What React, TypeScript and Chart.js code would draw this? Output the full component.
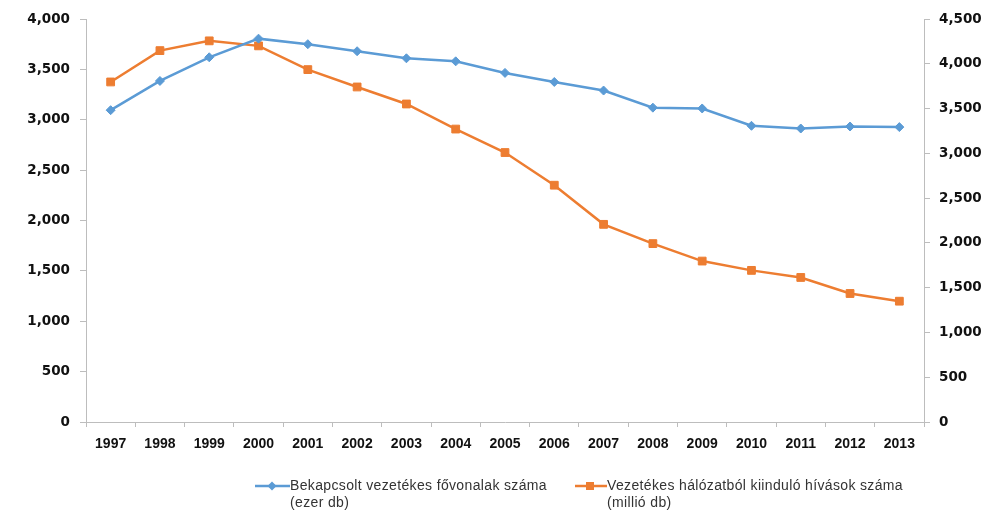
import React, { useEffect, useRef } from "react";
import { Chart, registerables } from "chart.js";

Chart.register(...registerables);

const years = ["1997","1998","1999","2000","2001","2002","2003","2004","2005","2006","2007","2008","2009","2010","2011","2012","2013"];
const linesThousands = [3095, 3385, 3620, 3805, 3750, 3680, 3610, 3580, 3465, 3375, 3290, 3120, 3112, 2940, 2913, 2933, 2927];
const callsMillions = [3797, 4147, 4256, 4200, 3935, 3741, 3551, 3271, 3009, 2644, 2207, 1992, 1797, 1693, 1614, 1435, 1349];
const leftTicks = { min: 0, max: 4000, step: 500 };
const rightTicks = { min: 0, max: 4500, step: 500 };
const seriesNames = [
  ["Bekapcsolt vezetékes fővonalak száma", "(ezer db)"],
  ["Vezetékes hálózatból kiinduló hívások száma", "(millió db)"],
];

const BLUE = "#5b9bd5";
const ORANGE = "#ed7d31";
const AXIS = "#bdbdbd";
const XFONT = { family: "'Liberation Sans', Arial, sans-serif", size: 14, weight: "bold" as const };
const YFONT = { family: "'DejaVu Sans', sans-serif", size: 13.5, weight: "bold" as const };

const fmt = (v: number | string) => Number(v).toLocaleString("en-US");

export default function App() {
  const ref = useRef<HTMLCanvasElement>(null);
  useEffect(() => {
    document.body.style.margin = "0";
    const chart = new Chart(ref.current!, {
      type: "line",
      data: {
        labels: years,
        datasets: [
          {
            label: seriesNames[0].join(" "),
            data: linesThousands,
            yAxisID: "y",
            borderColor: BLUE,
            backgroundColor: BLUE,
            borderWidth: 2.5,
            pointStyle: "rectRot",
            pointRadius: 4.5,
            pointBorderWidth: 1,
            tension: 0,
          },
          {
            label: seriesNames[1].join(" "),
            data: callsMillions,
            yAxisID: "y1",
            borderColor: ORANGE,
            backgroundColor: ORANGE,
            borderWidth: 2.5,
            pointStyle: "rect",
            pointRadius: 5.5,
            pointBorderWidth: 1,
            tension: 0,
          },
        ],
      },
      options: {
        animation: false,
        responsive: false,
        maintainAspectRatio: false,
        layout: { padding: { top: 19, left: 0, right: 0, bottom: 0 } },
        plugins: { legend: { display: false }, tooltip: { enabled: false } },
        scales: {
          x: {
            type: "category",
            offset: true,
            grid: { display: true, drawOnChartArea: false, drawTicks: true, tickLength: 5, offset: true, color: AXIS },
            border: { display: true, color: AXIS, width: 1 },
            ticks: { font: XFONT, color: "#111", padding: 9, maxRotation: 0, autoSkip: false },
            afterFit: (s: any) => { s.height = 88; },
          },
          y: {
            position: "left",
            min: leftTicks.min,
            max: leftTicks.max,
            grid: { display: true, drawOnChartArea: false, drawTicks: true, tickLength: 6, color: AXIS },
            border: { display: true, color: AXIS, width: 1 },
            ticks: { stepSize: leftTicks.step, font: YFONT, color: "#111", padding: 10, callback: (v: any) => fmt(v) },
            afterFit: (s: any) => { s.width = 86; },
          },
          y1: {
            position: "right",
            min: rightTicks.min,
            max: rightTicks.max,
            grid: { display: true, drawOnChartArea: false, drawTicks: true, tickLength: 6, color: AXIS },
            border: { display: true, color: AXIS, width: 1 },
            ticks: { stepSize: rightTicks.step, font: YFONT, color: "#111", padding: 9, callback: (v: any) => fmt(v) },
            afterFit: (s: any) => { s.width = 62; },
          },
        },
      },
    } as any);
    return () => chart.destroy();
  }, []);

  const textStyle: React.CSSProperties = {
    position: "absolute",
    fontFamily: "'Liberation Sans', Arial, sans-serif",
    fontSize: 14,
    letterSpacing: "0.35px",
    lineHeight: "17px",
    color: "#333",
    whiteSpace: "nowrap",
  };

  return (
    <div style={{ position: "relative", width: 986, height: 510 }}>
      <canvas ref={ref} width={986} height={510} style={{ display: "block" }} />
      <svg style={{ position: "absolute", left: 255, top: 480 }} width={35} height={12}>
        <line x1={0} y1={6} x2={35} y2={6} stroke={BLUE} strokeWidth={2.5} />
        <polygon points="17,1.5 21.5,6 17,10.5 12.5,6" fill={BLUE} />
      </svg>
      <div style={{ ...textStyle, left: 290, top: 477 }}>
        {seriesNames[0][0]}<br />{seriesNames[0][1]}
      </div>
      <svg style={{ position: "absolute", left: 575, top: 480 }} width={32} height={12}>
        <line x1={0} y1={6} x2={32} y2={6} stroke={ORANGE} strokeWidth={2.5} />
        <rect x={11} y={2} width={8} height={8} fill={ORANGE} />
      </svg>
      <div style={{ ...textStyle, left: 607, top: 477 }}>
        {seriesNames[1][0]}<br />{seriesNames[1][1]}
      </div>
    </div>
  );
}
